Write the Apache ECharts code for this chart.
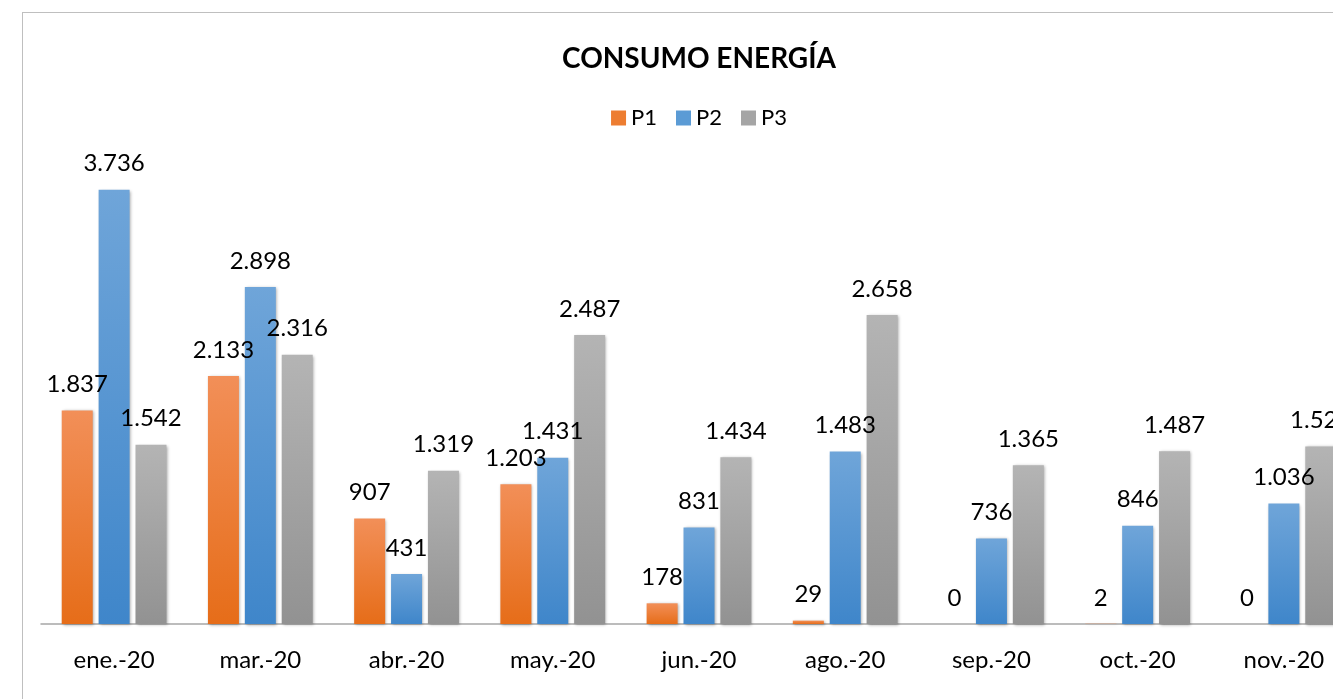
<!DOCTYPE html>
<html>
<head>
<meta charset="utf-8">
<script src="https://cdn.jsdelivr.net/npm/echarts@6/dist/echarts.min.js"></script>
<style>
html,body{margin:0;padding:0;background:#fff;overflow:hidden;width:1333px;height:699px;}
#chart{position:absolute;left:22px;top:12px;width:1354px;height:720px;border:1px solid #bfbfbf;box-sizing:border-box;}
</style>
</head>
<body>
<div id="chart"></div>
<script>
var categories = ['ene.-20','mar.-20','abr.-20','may.-20','jun.-20','ago.-20','sep.-20','oct.-20','nov.-20'];
var p1 = [1837, 2133, 907, 1203, 178, 29, 0, 2, 0];
var p2 = [3736, 2898, 431, 1431, 831, 1483, 736, 846, 1036];
var p3 = [1542, 2316, 1319, 2487, 1434, 2658, 1365, 1487, 1527];
var seriesNames = ['P1','P2','P3'];

function fmt(v){
  return String(v).replace(/\B(?=(\d{3})+(?!\d))/g, '.');
}
function grad(top, bottom){
  return new echarts.graphic.LinearGradient(0,0,0,1,[{offset:0,color:top},{offset:1,color:bottom}]);
}
var FONT = 'Lato, "Open Sans", sans-serif';
var chart = echarts.init(document.getElementById('chart'));
function mk(name, data, top, bottom){
  return {
    name: name, type: 'bar', data: data,
    barWidth: 31, barGap: '19%',
    itemStyle: { color: grad(top, bottom), shadowBlur: 3, shadowColor: 'rgba(0,0,0,0.35)', shadowOffsetX: 1, shadowOffsetY: 1 },
    label: { show: true, position: 'top', distance: 14, color: '#000', fontFamily: FONT, fontSize: 24,
      formatter: function(p){ return fmt(p.value); } }
  };
}
chart.setOption({
  animation: false,
  title: { text: 'CONSUMO ENERGÍA', left: 'center', top: 27,
    textStyle: { fontFamily: FONT, fontWeight: 'bold', fontSize: 28, color: '#000' } },
  legend: { top: 89, left: 'center', itemWidth: 15, itemHeight: 15, itemGap: 19, icon: 'rect',
    textStyle: { fontFamily: FONT, fontSize: 22, color: '#000' },
    data: [
      {name:'P1', itemStyle:{color:'#ED7D31'}},
      {name:'P2', itemStyle:{color:'#5B9BD5'}},
      {name:'P3', itemStyle:{color:'#A5A5A5'}}
    ] },
  grid: { left: 18, right: 18, top: 146, height: 465 },
  xAxis: { type: 'category', data: categories,
    axisLine: { lineStyle: { color: '#a6a6a6', width: 1.5 } },
    axisTick: { show: false },
    axisLabel: { fontFamily: FONT, fontSize: 24, color: '#000', margin: 24, interval: 0 } },
  yAxis: { type: 'value', min: 0, max: 4000, show: false, splitLine: { show: false } },
  series: [
    mk(seriesNames[0], p1, '#F28F58', '#E66D19'),
    mk(seriesNames[1], p2, '#6FA5D9', '#3F86CA'),
    mk(seriesNames[2], p3, '#B4B4B4', '#929292')
  ]
});
</script>
</body>
</html>
